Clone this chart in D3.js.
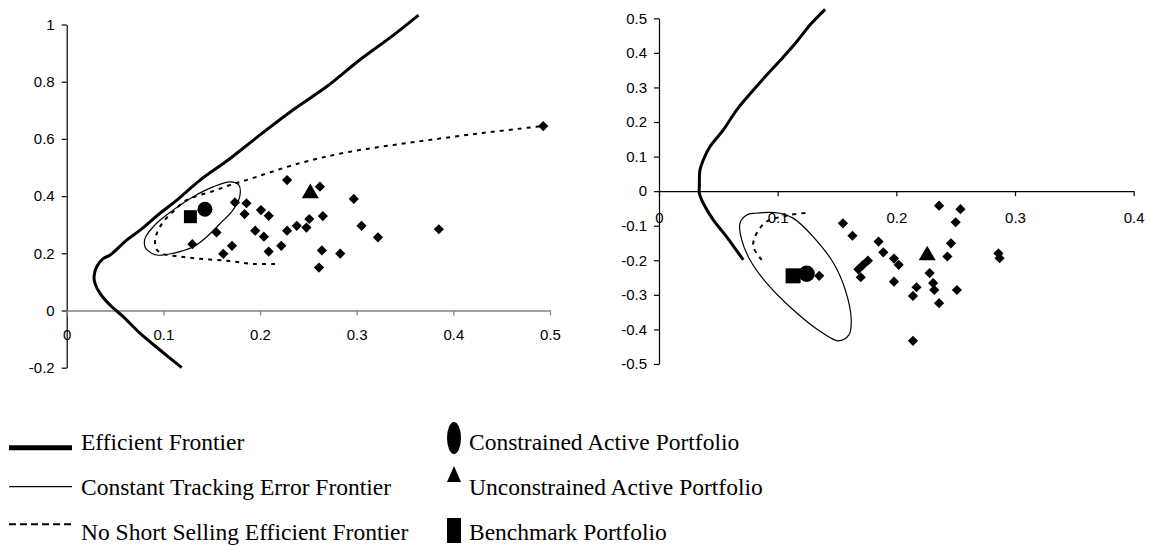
<!DOCTYPE html>
<html lang="en">
<head>
<meta charset="utf-8">
<title>Efficient and tracking error frontiers</title>
<script src="https://cdn.jsdelivr.net/npm/d3@7"></script>
<style>
  body { margin: 0; background: #fff; }
  .tick text { font-family: Arial, "Liberation Sans", sans-serif; font-size: 15px; fill: #000; }
  .legend text { font-family: "Liberation Serif", "Times New Roman", Times, serif; font-size: 23.5px; fill: #000; }
</style>
</head>
<body>
<script>
// ---- left panel, values (x = risk, y = return) ----
var leftEfficient = [[0.119,-0.2],[0.0965,-0.138],[0.076,-0.08],[0.0586,-0.022],[0.0448,0.019],
  [0.0345,0.06],[0.0293,0.095],[0.0283,0.118],[0.031,0.153],[0.038,0.182],[0.045,0.194],
  [0.062,0.246],[0.076,0.281],[0.0965,0.34],[0.114,0.386],[0.138,0.456],[0.167,0.526],
  [0.2,0.614],[0.234,0.701],[0.269,0.783],[0.303,0.876],[0.338,0.963],[0.364,1.033]];
var leftTracking = [[0.081,0.252],[0.093,0.305],[0.11,0.351],[0.131,0.398],[0.152,0.433],
  [0.169,0.45],[0.178,0.439],[0.179,0.398],[0.172,0.351],[0.159,0.305],[0.145,0.258],
  [0.131,0.223],[0.11,0.2],[0.093,0.194],[0.083,0.212],[0.081,0.223]];
var leftNoShort = [[0.2155,0.163],[0.193,0.163],[0.169,0.173],[0.138,0.181],[0.117,0.189],
  [0.0996,0.198],[0.0934,0.212],[0.0914,0.24],[0.0934,0.271],[0.0999,0.31],[0.11,0.345],
  [0.124,0.386],[0.152,0.418],[0.169,0.439],[0.186,0.456],[0.241,0.515],[0.293,0.555],
  [0.362,0.59],[0.431,0.621],[0.493,0.645]];
var leftAssets = [[0.13,0.232],[0.155,0.273],[0.162,0.198],[0.171,0.226],[0.174,0.378],
  [0.186,0.375],[0.184,0.337],[0.201,0.351],[0.209,0.331],[0.195,0.279],[0.204,0.258],
  [0.228,0.279],[0.238,0.296],[0.209,0.206],[0.222,0.226],[0.228,0.456],[0.262,0.433],
  [0.297,0.39],[0.248,0.29],[0.251,0.32],[0.265,0.33],[0.305,0.296],[0.322,0.256],
  [0.385,0.284],[0.264,0.21],[0.283,0.199],[0.261,0.15],[0.493,0.645]];
var leftConstrained = [0.143, 0.354];
var leftUnconstrained = [0.252, 0.41];
var leftBenchmark = [0.128, 0.328];
var leftXTicks = [0, 0.1, 0.2, 0.3, 0.4, 0.5];
var leftYTicks = [-0.2, 0, 0.2, 0.4, 0.6, 0.8, 1];

// ---- right panel ----
var rightEfficient = [[0.071,-0.199],[0.057,-0.132],[0.0457,-0.083],[0.0373,-0.035],[0.034,-0.006],
  [0.034,0.013],[0.0345,0.061],[0.0373,0.09],[0.043,0.129],[0.0542,0.177],[0.0655,0.235],
  [0.0794,0.292],[0.0907,0.336],[0.105,0.389],[0.116,0.432],[0.127,0.48],[0.14,0.526]];
var rightTracking = [[0.0809,-0.064],[0.102,-0.064],[0.113,-0.078],[0.13,-0.132],[0.147,-0.208],
  [0.157,-0.286],[0.162,-0.372],[0.16,-0.416],[0.151,-0.433],[0.136,-0.406],[0.113,-0.343],
  [0.0907,-0.266],[0.0767,-0.199],[0.0697,-0.141],[0.0682,-0.093],[0.0739,-0.069]];
var rightNoShort = [[0.0865,-0.199],[0.0794,-0.16],[0.0809,-0.132],[0.0851,-0.107],
  [0.0907,-0.088],[0.11,-0.069],[0.127,-0.062]];
var rightAssets = [[0.135,-0.245],[0.155,-0.093],[0.163,-0.129],[0.185,-0.146],[0.176,-0.201],
  [0.168,-0.226],[0.17,-0.249],[0.172,-0.213],[0.236,-0.042],[0.254,-0.052],[0.25,-0.09],
  [0.189,-0.177],[0.198,-0.195],[0.202,-0.213],[0.198,-0.262],[0.246,-0.151],[0.243,-0.189],
  [0.228,-0.237],[0.231,-0.266],[0.232,-0.286],[0.236,-0.324],[0.217,-0.278],[0.214,-0.303],
  [0.251,-0.286],[0.286,-0.18],[0.287,-0.194],[0.214,-0.433]];
var rightConstrained = [0.1244, -0.239];
var rightUnconstrained = [0.226, -0.186];
var rightBenchmark = [0.113, -0.245];
var rightXTicks = [0, 0.1, 0.2, 0.3, 0.4];
var rightYTicks = [-0.5, -0.4, -0.3, -0.2, -0.1, 0, 0.1, 0.2, 0.3, 0.4, 0.5];

var legendLines = ["Efficient Frontier", "Constant Tracking Error Frontier", "No Short Selling Efficient Frontier"];
var legendMarkers = ["Constrained Active Portfolio", "Unconstrained Active Portfolio", "Benchmark Portfolio"];

var w = 1151, h = 546;
var fmt = function(d) { return String(+d.toFixed(1)); };

var svg = d3.select("body").append("svg")
  .attr("width", w).attr("height", h);

function panel(opt) {
  var x = d3.scaleLinear().domain(opt.xDomain).range(opt.xRange);
  var y = d3.scaleLinear().domain(opt.yDomain).range(opt.yRange);
  var g = svg.append("g");

  // y axis
  var ya = g.append("g")
    .attr("transform", "translate(" + x(0) + ",0)")
    .call(d3.axisLeft(y).tickValues(opt.yTicks).tickFormat(fmt).tickSize(5).tickPadding(7).tickSizeOuter(0));
  ya.select(".domain").attr("stroke", "#000").attr("stroke-width", 1.2);
  ya.selectAll(".tick line").attr("stroke-width", 1.2);

  // x axis sits on y = 0
  var xa = g.append("g")
    .attr("transform", "translate(0," + y(0) + ")")
    .call(d3.axisBottom(x).tickValues(opt.xTicks).tickFormat(fmt).tickSize(5).tickSizeOuter(0));
  xa.select(".domain").attr("stroke", opt.xAxisColor).attr("stroke-width", 1.3);
  xa.selectAll(".tick line").attr("stroke", opt.xAxisColor).attr("stroke-width", 1.2);
  xa.selectAll(".tick text").attr("y", opt.xLabelOffset).attr("dy", "0.35em");

  var line = d3.line().x(function(d) { return x(d[0]); }).y(function(d) { return y(d[1]); });

  g.append("path")
    .attr("d", line.curve(d3.curveCatmullRom)(opt.efficient))
    .attr("fill", "none").attr("stroke", "#000").attr("stroke-width", 3);

  g.append("path")
    .attr("d", line.curve(d3.curveCatmullRomClosed)(opt.tracking))
    .attr("fill", "none").attr("stroke", "#000").attr("stroke-width", 1.2);

  g.append("path")
    .attr("d", line.curve(d3.curveCatmullRom)(opt.noShort))
    .attr("fill", "none").attr("stroke", "#000").attr("stroke-width", 2)
    .attr("stroke-dasharray", "4,5");

  // individual assets as diamonds
  g.selectAll(".asset").data(opt.assets).enter().append("path")
    .attr("class", "asset")
    .attr("d", d3.symbol(d3.symbolSquare, 52)())
    .attr("transform", function(d) { return "translate(" + x(d[0]) + "," + y(d[1]) + ") rotate(45)"; })
    .attr("fill", "#000");

  g.append("path")
    .attr("d", d3.symbol(d3.symbolSquare, opt.squareSize)())
    .attr("transform", "translate(" + x(opt.benchmark[0]) + "," + y(opt.benchmark[1]) + ")");
  g.append("circle")
    .attr("cx", x(opt.constrained[0])).attr("cy", y(opt.constrained[1]))
    .attr("r", opt.circleR).attr("fill", "#000");
  g.append("path")
    .attr("d", d3.symbol(d3.symbolTriangle, 125)())
    .attr("transform", "translate(" + x(opt.unconstrained[0]) + "," + y(opt.unconstrained[1]) + ")");
}

panel({
  xDomain: [0, 0.5], xRange: [66.7, 550],
  yDomain: [-0.2, 1], yRange: [367.7, 24.5],
  xTicks: leftXTicks, yTicks: leftYTicks,
  xAxisColor: "#808080", xLabelOffset: 24,
  efficient: leftEfficient, tracking: leftTracking, noShort: leftNoShort,
  assets: leftAssets, constrained: leftConstrained, unconstrained: leftUnconstrained,
  benchmark: leftBenchmark, squareSize: 169, circleR: 7.5
});

panel({
  xDomain: [0, 0.4], xRange: [659, 1133.7],
  yDomain: [-0.5, 0.5], yRange: [364, 18.3],
  xTicks: rightXTicks, yTicks: rightYTicks,
  xAxisColor: "#000", xLabelOffset: 27,
  efficient: rightEfficient, tracking: rightTracking, noShort: rightNoShort,
  assets: rightAssets, constrained: rightConstrained, unconstrained: rightUnconstrained,
  benchmark: rightBenchmark, squareSize: 225, circleR: 8.2
});

// ---- legend ----
var leg = svg.append("g").attr("class", "legend");
var rowY = [450, 495, 540];
var lineY = [447.7, 486.7, 524.3];
var lineStyles = [{ sw: 5, dash: null }, { sw: 1.3, dash: null }, { sw: 2, dash: "7,4" }];

legendLines.forEach(function(t, i) {
  leg.append("line")
    .attr("x1", 9).attr("x2", 72).attr("y1", lineY[i]).attr("y2", lineY[i])
    .attr("stroke", "#000").attr("stroke-width", lineStyles[i].sw)
    .attr("stroke-dasharray", lineStyles[i].dash);
  leg.append("text").attr("x", 81).attr("y", rowY[i])
    .attr("font-family", "Liberation Serif, serif").text(t);
});

leg.append("ellipse").attr("cx", 454).attr("cy", 438).attr("rx", 7).attr("ry", 16).attr("fill", "#000");
leg.append("path").attr("d", "M454,466L461,482L447,482Z").attr("fill", "#000");
leg.append("rect").attr("x", 447).attr("y", 518).attr("width", 14).attr("height", 25).attr("fill", "#000");
legendMarkers.forEach(function(t, i) {
  leg.append("text").attr("x", 469).attr("y", rowY[i])
    .attr("font-family", "Liberation Serif, serif").text(t);
});
</script>
</body>
</html>
